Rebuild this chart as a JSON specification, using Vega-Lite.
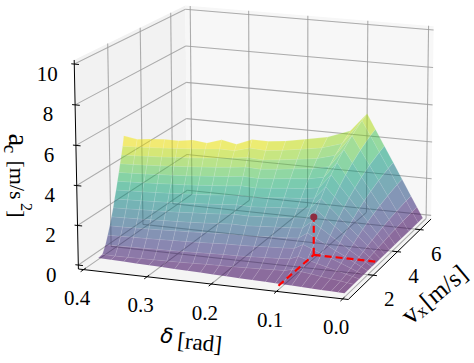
{"$schema":"https://vega.github.io/schema/vega-lite/v6.json","width":474,"height":363,"padding":0,"autosize":{"type":"fit","contains":"padding"},"config":{"view":{"stroke":null}},"background":"white",
"data":{"values":[
{"k":"pl","o":0,"d":0.4083,"v":0.07,"a":-0.2},{"k":"pl","o":1,"d":0.4083,"v":7.01,"a":-0.2},{"k":"pl","o":2,"d":0.4083,"v":7.01,"a":10.2},{"k":"pl","o":3,"d":0.4083,"v":0.07,"a":10.2},
{"k":"pr","o":0,"d":0.4083,"v":7.01,"a":-0.2},{"k":"pr","o":1,"d":-0.0083,"v":7.01,"a":-0.2},{"k":"pr","o":2,"d":-0.0083,"v":7.01,"a":10.2},{"k":"pr","o":3,"d":0.4083,"v":7.01,"a":10.2},
{"k":"pf","o":0,"d":0.4083,"v":0.07,"a":-0.2},{"k":"pf","o":1,"d":-0.0083,"v":0.07,"a":-0.2},{"k":"pf","o":2,"d":-0.0083,"v":7.01,"a":-0.2},{"k":"pf","o":3,"d":0.4083,"v":7.01,"a":-0.2},
{"k":"g","g":1,"o":0,"d":0,"v":0.07,"a":-0.2},{"k":"g","g":1,"o":1,"d":0,"v":7.01,"a":-0.2},
{"k":"g","g":2,"o":0,"d":0.1,"v":0.07,"a":-0.2},{"k":"g","g":2,"o":1,"d":0.1,"v":7.01,"a":-0.2},
{"k":"g","g":3,"o":0,"d":0.2,"v":0.07,"a":-0.2},{"k":"g","g":3,"o":1,"d":0.2,"v":7.01,"a":-0.2},
{"k":"g","g":4,"o":0,"d":0.3,"v":0.07,"a":-0.2},{"k":"g","g":4,"o":1,"d":0.3,"v":7.01,"a":-0.2},
{"k":"g","g":5,"o":0,"d":0.4,"v":0.07,"a":-0.2},{"k":"g","g":5,"o":1,"d":0.4,"v":7.01,"a":-0.2},
{"k":"g","g":6,"o":0,"d":-0.0083,"v":2,"a":-0.2},{"k":"g","g":6,"o":1,"d":0.4083,"v":2,"a":-0.2},
{"k":"g","g":7,"o":0,"d":-0.0083,"v":4,"a":-0.2},{"k":"g","g":7,"o":1,"d":0.4083,"v":4,"a":-0.2},
{"k":"g","g":8,"o":0,"d":-0.0083,"v":6,"a":-0.2},{"k":"g","g":8,"o":1,"d":0.4083,"v":6,"a":-0.2},
{"k":"g","g":9,"o":0,"d":0.4083,"v":2,"a":-0.2},{"k":"g","g":9,"o":1,"d":0.4083,"v":2,"a":10.2},
{"k":"g","g":10,"o":0,"d":0.4083,"v":4,"a":-0.2},{"k":"g","g":10,"o":1,"d":0.4083,"v":4,"a":10.2},
{"k":"g","g":11,"o":0,"d":0.4083,"v":6,"a":-0.2},{"k":"g","g":11,"o":1,"d":0.4083,"v":6,"a":10.2},
{"k":"g","g":12,"o":0,"d":0.4083,"v":0.07,"a":0},{"k":"g","g":12,"o":1,"d":0.4083,"v":7.01,"a":0},{"k":"g","g":13,"o":0,"d":0.4083,"v":0.07,"a":2},{"k":"g","g":13,"o":1,"d":0.4083,"v":7.01,"a":2},
{"k":"g","g":14,"o":0,"d":0.4083,"v":0.07,"a":4},{"k":"g","g":14,"o":1,"d":0.4083,"v":7.01,"a":4},{"k":"g","g":15,"o":0,"d":0.4083,"v":0.07,"a":6},{"k":"g","g":15,"o":1,"d":0.4083,"v":7.01,"a":6},
{"k":"g","g":16,"o":0,"d":0.4083,"v":0.07,"a":8},{"k":"g","g":16,"o":1,"d":0.4083,"v":7.01,"a":8},{"k":"g","g":17,"o":0,"d":0.4083,"v":0.07,"a":10},{"k":"g","g":17,"o":1,"d":0.4083,"v":7.01,"a":10},
{"k":"g","g":18,"o":0,"d":0,"v":7.01,"a":-0.2},{"k":"g","g":18,"o":1,"d":0,"v":7.01,"a":10.2},{"k":"g","g":19,"o":0,"d":0.1,"v":7.01,"a":-0.2},{"k":"g","g":19,"o":1,"d":0.1,"v":7.01,"a":10.2},
{"k":"g","g":20,"o":0,"d":0.2,"v":7.01,"a":-0.2},{"k":"g","g":20,"o":1,"d":0.2,"v":7.01,"a":10.2},{"k":"g","g":21,"o":0,"d":0.3,"v":7.01,"a":-0.2},{"k":"g","g":21,"o":1,"d":0.3,"v":7.01,"a":10.2},
{"k":"g","g":22,"o":0,"d":0.4,"v":7.01,"a":-0.2},{"k":"g","g":22,"o":1,"d":0.4,"v":7.01,"a":10.2},
{"k":"g","g":23,"o":0,"d":-0.0083,"v":7.01,"a":0},{"k":"g","g":23,"o":1,"d":0.4083,"v":7.01,"a":0},{"k":"g","g":24,"o":0,"d":-0.0083,"v":7.01,"a":2},{"k":"g","g":24,"o":1,"d":0.4083,"v":7.01,"a":2},
{"k":"g","g":25,"o":0,"d":-0.0083,"v":7.01,"a":4},{"k":"g","g":25,"o":1,"d":0.4083,"v":7.01,"a":4},{"k":"g","g":26,"o":0,"d":-0.0083,"v":7.01,"a":6},{"k":"g","g":26,"o":1,"d":0.4083,"v":7.01,"a":6},
{"k":"g","g":27,"o":0,"d":-0.0083,"v":7.01,"a":8},{"k":"g","g":27,"o":1,"d":0.4083,"v":7.01,"a":8},{"k":"g","g":28,"o":0,"d":-0.0083,"v":7.01,"a":10},{"k":"g","g":28,"o":1,"d":0.4083,"v":7.01,"a":10},
{"k":"ax","g":1,"o":0,"d":0.4083,"v":0.07,"a":-0.2},{"k":"ax","g":1,"o":1,"d":0.4083,"v":0.07,"a":10.2},
{"k":"ax","g":2,"o":0,"d":0.4083,"v":0.07,"a":-0.2},{"k":"ax","g":2,"o":1,"d":-0.0083,"v":0.07,"a":-0.2},
{"k":"ax","g":3,"o":0,"d":-0.0083,"v":0.07,"a":-0.2},{"k":"ax","g":3,"o":1,"d":-0.0083,"v":7.01,"a":-0.2},
{"k":"ax","g":4,"o":0,"d":0.4,"v":-0.1,"a":-0.2},{"k":"ax","g":4,"o":1,"d":0.4,"v":0.2,"a":-0.2},{"k":"ax","g":5,"o":0,"d":0.3,"v":-0.1,"a":-0.2},{"k":"ax","g":5,"o":1,"d":0.3,"v":0.2,"a":-0.2},
{"k":"ax","g":6,"o":0,"d":0.2,"v":-0.1,"a":-0.2},{"k":"ax","g":6,"o":1,"d":0.2,"v":0.2,"a":-0.2},{"k":"ax","g":7,"o":0,"d":0.1,"v":-0.1,"a":-0.2},{"k":"ax","g":7,"o":1,"d":0.1,"v":0.2,"a":-0.2},
{"k":"ax","g":8,"o":0,"d":0,"v":-0.1,"a":-0.2},{"k":"ax","g":8,"o":1,"d":0,"v":0.2,"a":-0.2},
{"k":"ax","g":9,"o":0,"d":-0.014,"v":2,"a":-0.2},{"k":"ax","g":9,"o":1,"d":0,"v":2,"a":-0.2},{"k":"ax","g":10,"o":0,"d":-0.014,"v":4,"a":-0.2},{"k":"ax","g":10,"o":1,"d":0,"v":4,"a":-0.2},
{"k":"ax","g":11,"o":0,"d":-0.014,"v":6,"a":-0.2},{"k":"ax","g":11,"o":1,"d":0,"v":6,"a":-0.2},
{"k":"ax","g":12,"o":0,"d":0.401,"v":0.07,"a":0},{"k":"ax","g":12,"o":1,"d":0.413,"v":0.07,"a":0},{"k":"ax","g":13,"o":0,"d":0.401,"v":0.07,"a":2},{"k":"ax","g":13,"o":1,"d":0.413,"v":0.07,"a":2},
{"k":"ax","g":14,"o":0,"d":0.401,"v":0.07,"a":4},{"k":"ax","g":14,"o":1,"d":0.413,"v":0.07,"a":4},{"k":"ax","g":15,"o":0,"d":0.401,"v":0.07,"a":6},{"k":"ax","g":15,"o":1,"d":0.413,"v":0.07,"a":6},
{"k":"ax","g":16,"o":0,"d":0.401,"v":0.07,"a":8},{"k":"ax","g":16,"o":1,"d":0.413,"v":0.07,"a":8},{"k":"ax","g":17,"o":0,"d":0.401,"v":0.07,"a":10},{"k":"ax","g":17,"o":1,"d":0.413,"v":0.07,"a":10},
{"k":"r","g":1,"o":0,"d":0.1,"v":0.2,"a":0},{"k":"r","g":1,"o":1,"d":0.1,"v":2.75,"a":0},{"k":"r","g":2,"o":0,"d":0.1,"v":2.75,"a":0},{"k":"r","g":2,"o":1,"d":0,"v":2.75,"a":0},{"k":"r","g":3,"o":0,"d":0.1,"v":2.75,"a":0},{"k":"r","g":3,"o":1,"d":0.1,"v":2.75,"a":1.96},
{"k":"pt","d":0.1,"v":2.75,"a":1.96},
{"k":"dl","label":"0.4","d":0.4,"v":0.07,"a":-0.2},{"k":"dl","label":"0.3","d":0.3,"v":0.07,"a":-0.2},{"k":"dl","label":"0.2","d":0.2,"v":0.07,"a":-0.2},{"k":"dl","label":"0.1","d":0.1,"v":0.07,"a":-0.2},{"k":"dl","label":"0.0","d":0,"v":0.07,"a":-0.2},
{"k":"vl","label":"2","d":-0.0083,"v":2,"a":-0.2},{"k":"vl","label":"4","d":-0.0083,"v":4,"a":-0.2},{"k":"vl","label":"6","d":-0.0083,"v":6,"a":-0.2},
{"k":"zl","label":"0","d":0.4083,"v":0.07,"a":0},{"k":"zl","label":"2","d":0.4083,"v":0.07,"a":2},{"k":"zl","label":"4","d":0.4083,"v":0.07,"a":4},{"k":"zl","label":"6","d":0.4083,"v":0.07,"a":6},{"k":"zl","label":"8","d":0.4083,"v":0.07,"a":8},{"k":"zl","label":"10","d":0.4083,"v":0.07,"a":10},
{"k":"an","d":0.2,"v":0.07,"a":-0.2},
{"i":14,"j":0,"d":0.38,"v":1.82,"a":5.7},{"i":14,"j":1,"d":0.36,"v":1.88,"a":5.55},{"i":14,"j":2,"d":0.34,"v":1.95,"a":5.6},{"i":14,"j":3,"d":0.32,"v":2.03,"a":5.6},{"i":14,"j":4,"d":0.3,"v":2.12,"a":5.55},{"i":14,"j":5,"d":0.28,"v":2.22,"a":5.6},{"i":14,"j":6,"d":0.26,"v":2.34,"a":5.45},{"i":14,"j":7,"d":0.24,"v":2.48,"a":5.6},{"i":14,"j":8,"d":0.22,"v":2.64,"a":5.35},{"i":14,"j":9,"d":0.2,"v":2.85,"a":5.55},{"i":14,"j":10,"d":0.18,"v":3.11,"a":5.4},{"i":14,"j":11,"d":0.16,"v":3.46,"a":5.3},{"i":14,"j":12,"d":0.14,"v":3.96,"a":5.2},{"i":14,"j":13,"d":0.12,"v":4.77,"a":4.98},{"i":14,"j":14,"d":0.105,"v":5.86,"a":4.82},{"i":14,"j":15,"d":0.094,"v":6.7,"a":5.37},{"i":14,"j":16,"d":0.08,"v":6.7,"a":4.57},{"i":14,"j":17,"d":0.065,"v":6.7,"a":3.71},{"i":14,"j":18,"d":0.05,"v":6.7,"a":2.86},{"i":14,"j":19,"d":0.035,"v":6.7,"a":2},{"i":14,"j":20,"d":0.02,"v":6.7,"a":1.14},{"i":14,"j":21,"d":0.01,"v":6.7,"a":0.57},{"i":14,"j":22,"d":0,"v":6.7,"a":0},
{"i":13,"j":0,"d":0.38,"v":1.74,"a":5.2},{"i":13,"j":1,"d":0.36,"v":1.8,"a":5.2},{"i":13,"j":2,"d":0.34,"v":1.86,"a":5.2},{"i":13,"j":3,"d":0.32,"v":1.94,"a":5.2},{"i":13,"j":4,"d":0.3,"v":2.02,"a":5.2},{"i":13,"j":5,"d":0.28,"v":2.11,"a":5.2},{"i":13,"j":6,"d":0.26,"v":2.22,"a":5.2},{"i":13,"j":7,"d":0.24,"v":2.35,"a":5.2},{"i":13,"j":8,"d":0.22,"v":2.5,"a":5.1},{"i":13,"j":9,"d":0.2,"v":2.69,"a":5.2},{"i":13,"j":10,"d":0.18,"v":2.92,"a":5.02},{"i":13,"j":11,"d":0.16,"v":3.23,"a":4.94},{"i":13,"j":12,"d":0.14,"v":3.66,"a":4.84},{"i":13,"j":13,"d":0.12,"v":4.34,"a":4.63},{"i":13,"j":14,"d":0.105,"v":5.19,"a":4.47},{"i":13,"j":15,"d":0.094,"v":6.27,"a":5.2},{"i":13,"j":16,"d":0.08,"v":6.27,"a":4.43},{"i":13,"j":17,"d":0.065,"v":6.27,"a":3.59},{"i":13,"j":18,"d":0.05,"v":6.27,"a":2.77},{"i":13,"j":19,"d":0.035,"v":6.27,"a":1.94},{"i":13,"j":20,"d":0.02,"v":6.27,"a":1.11},{"i":13,"j":21,"d":0.01,"v":6.27,"a":0.55},{"i":13,"j":22,"d":0,"v":6.27,"a":0},
{"i":12,"j":0,"d":0.38,"v":1.66,"a":4.8},{"i":12,"j":1,"d":0.36,"v":1.71,"a":4.8},{"i":12,"j":2,"d":0.34,"v":1.77,"a":4.8},{"i":12,"j":3,"d":0.32,"v":1.84,"a":4.8},{"i":12,"j":4,"d":0.3,"v":1.92,"a":4.8},{"i":12,"j":5,"d":0.28,"v":2,"a":4.8},{"i":12,"j":6,"d":0.26,"v":2.1,"a":4.8},{"i":12,"j":7,"d":0.24,"v":2.22,"a":4.8},{"i":12,"j":8,"d":0.22,"v":2.36,"a":4.8},{"i":12,"j":9,"d":0.2,"v":2.53,"a":4.8},{"i":12,"j":10,"d":0.18,"v":2.74,"a":4.63},{"i":12,"j":11,"d":0.16,"v":3.01,"a":4.56},{"i":12,"j":12,"d":0.14,"v":3.39,"a":4.46},{"i":12,"j":13,"d":0.12,"v":3.96,"a":4.27},{"i":12,"j":14,"d":0.105,"v":4.64,"a":4.13},{"i":12,"j":15,"d":0.094,"v":5.44,"a":4.8},{"i":12,"j":16,"d":0.08,"v":5.44,"a":4.08},{"i":12,"j":17,"d":0.065,"v":5.44,"a":3.32},{"i":12,"j":18,"d":0.05,"v":5.44,"a":2.55},{"i":12,"j":19,"d":0.035,"v":5.44,"a":1.79},{"i":12,"j":20,"d":0.02,"v":5.44,"a":1.02},{"i":12,"j":21,"d":0.01,"v":5.44,"a":0.51},{"i":12,"j":22,"d":0,"v":5.44,"a":0},
{"i":11,"j":0,"d":0.38,"v":1.57,"a":4.4},{"i":11,"j":1,"d":0.36,"v":1.62,"a":4.4},{"i":11,"j":2,"d":0.34,"v":1.68,"a":4.4},{"i":11,"j":3,"d":0.32,"v":1.74,"a":4.4},{"i":11,"j":4,"d":0.3,"v":1.81,"a":4.4},{"i":11,"j":5,"d":0.28,"v":1.9,"a":4.4},{"i":11,"j":6,"d":0.26,"v":1.99,"a":4.4},{"i":11,"j":7,"d":0.24,"v":2.09,"a":4.4},{"i":11,"j":8,"d":0.22,"v":2.22,"a":4.4},{"i":11,"j":9,"d":0.2,"v":2.37,"a":4.4},{"i":11,"j":10,"d":0.18,"v":2.56,"a":4.25},{"i":11,"j":11,"d":0.16,"v":2.81,"a":4.18},{"i":11,"j":12,"d":0.14,"v":3.14,"a":4.09},{"i":11,"j":13,"d":0.12,"v":3.62,"a":3.92},{"i":11,"j":14,"d":0.105,"v":4.17,"a":3.78},{"i":11,"j":15,"d":0.094,"v":4.78,"a":4.4},{"i":11,"j":16,"d":0.08,"v":4.78,"a":3.74},{"i":11,"j":17,"d":0.065,"v":4.78,"a":3.04},{"i":11,"j":18,"d":0.05,"v":4.78,"a":2.34},{"i":11,"j":19,"d":0.035,"v":4.78,"a":1.64},{"i":11,"j":20,"d":0.02,"v":4.78,"a":0.94},{"i":11,"j":21,"d":0.01,"v":4.78,"a":0.47},{"i":11,"j":22,"d":0,"v":4.78,"a":0},
{"i":10,"j":0,"d":0.38,"v":1.49,"a":4},{"i":10,"j":1,"d":0.36,"v":1.53,"a":4},{"i":10,"j":2,"d":0.34,"v":1.59,"a":4},{"i":10,"j":3,"d":0.32,"v":1.65,"a":4},{"i":10,"j":4,"d":0.3,"v":1.71,"a":4},{"i":10,"j":5,"d":0.28,"v":1.79,"a":4},{"i":10,"j":6,"d":0.26,"v":1.87,"a":4},{"i":10,"j":7,"d":0.24,"v":1.97,"a":4},{"i":10,"j":8,"d":0.22,"v":2.08,"a":4},{"i":10,"j":9,"d":0.2,"v":2.22,"a":4},{"i":10,"j":10,"d":0.18,"v":2.39,"a":3.86},{"i":10,"j":11,"d":0.16,"v":2.61,"a":3.8},{"i":10,"j":12,"d":0.14,"v":2.89,"a":3.72},{"i":10,"j":13,"d":0.12,"v":3.3,"a":3.56},{"i":10,"j":14,"d":0.105,"v":3.76,"a":3.44},{"i":10,"j":15,"d":0.094,"v":4.24,"a":4},{"i":10,"j":16,"d":0.08,"v":4.24,"a":3.4},{"i":10,"j":17,"d":0.065,"v":4.24,"a":2.76},{"i":10,"j":18,"d":0.05,"v":4.24,"a":2.13},{"i":10,"j":19,"d":0.035,"v":4.24,"a":1.49},{"i":10,"j":20,"d":0.02,"v":4.24,"a":0.85},{"i":10,"j":21,"d":0.01,"v":4.24,"a":0.43},{"i":10,"j":22,"d":0,"v":4.24,"a":0},
{"i":9,"j":0,"d":0.38,"v":1.4,"a":3.6},{"i":9,"j":1,"d":0.36,"v":1.44,"a":3.6},{"i":9,"j":2,"d":0.34,"v":1.49,"a":3.6},{"i":9,"j":3,"d":0.32,"v":1.55,"a":3.6},{"i":9,"j":4,"d":0.3,"v":1.61,"a":3.6},{"i":9,"j":5,"d":0.28,"v":1.67,"a":3.6},{"i":9,"j":6,"d":0.26,"v":1.75,"a":3.6},{"i":9,"j":7,"d":0.24,"v":1.84,"a":3.6},{"i":9,"j":8,"d":0.22,"v":1.94,"a":3.6},{"i":9,"j":9,"d":0.2,"v":2.07,"a":3.6},{"i":9,"j":10,"d":0.18,"v":2.22,"a":3.47},{"i":9,"j":11,"d":0.16,"v":2.41,"a":3.42},{"i":9,"j":12,"d":0.14,"v":2.66,"a":3.35},{"i":9,"j":13,"d":0.12,"v":3.01,"a":3.2},{"i":9,"j":14,"d":0.105,"v":3.39,"a":3.1},{"i":9,"j":15,"d":0.094,"v":3.78,"a":3.6},{"i":9,"j":16,"d":0.08,"v":3.78,"a":3.06},{"i":9,"j":17,"d":0.065,"v":3.78,"a":2.49},{"i":9,"j":18,"d":0.05,"v":3.78,"a":1.92},{"i":9,"j":19,"d":0.035,"v":3.78,"a":1.34},{"i":9,"j":20,"d":0.02,"v":3.78,"a":0.77},{"i":9,"j":21,"d":0.01,"v":3.78,"a":0.38},{"i":9,"j":22,"d":0,"v":3.78,"a":0},
{"i":8,"j":0,"d":0.38,"v":1.31,"a":3.2},{"i":8,"j":1,"d":0.36,"v":1.35,"a":3.2},{"i":8,"j":2,"d":0.34,"v":1.39,"a":3.2},{"i":8,"j":3,"d":0.32,"v":1.44,"a":3.2},{"i":8,"j":4,"d":0.3,"v":1.5,"a":3.2},{"i":8,"j":5,"d":0.28,"v":1.56,"a":3.2},{"i":8,"j":6,"d":0.26,"v":1.63,"a":3.2},{"i":8,"j":7,"d":0.24,"v":1.71,"a":3.2},{"i":8,"j":8,"d":0.22,"v":1.81,"a":3.2},{"i":8,"j":9,"d":0.2,"v":1.92,"a":3.2},{"i":8,"j":10,"d":0.18,"v":2.05,"a":3.09},{"i":8,"j":11,"d":0.16,"v":2.22,"a":3.04},{"i":8,"j":12,"d":0.14,"v":2.44,"a":2.98},{"i":8,"j":13,"d":0.12,"v":2.74,"a":2.85},{"i":8,"j":14,"d":0.105,"v":3.05,"a":2.75},{"i":8,"j":15,"d":0.094,"v":3.37,"a":3.2},{"i":8,"j":16,"d":0.08,"v":3.37,"a":2.72},{"i":8,"j":17,"d":0.065,"v":3.37,"a":2.21},{"i":8,"j":18,"d":0.05,"v":3.37,"a":1.7},{"i":8,"j":19,"d":0.035,"v":3.37,"a":1.19},{"i":8,"j":20,"d":0.02,"v":3.37,"a":0.68},{"i":8,"j":21,"d":0.01,"v":3.37,"a":0.34},{"i":8,"j":22,"d":0,"v":3.37,"a":0},
{"i":7,"j":0,"d":0.38,"v":1.21,"a":2.8},{"i":7,"j":1,"d":0.36,"v":1.25,"a":2.8},{"i":7,"j":2,"d":0.34,"v":1.29,"a":2.8},{"i":7,"j":3,"d":0.32,"v":1.34,"a":2.8},{"i":7,"j":4,"d":0.3,"v":1.39,"a":2.8},{"i":7,"j":5,"d":0.28,"v":1.44,"a":2.8},{"i":7,"j":6,"d":0.26,"v":1.51,"a":2.8},{"i":7,"j":7,"d":0.24,"v":1.58,"a":2.8},{"i":7,"j":8,"d":0.22,"v":1.66,"a":2.8},{"i":7,"j":9,"d":0.2,"v":1.76,"a":2.8},{"i":7,"j":10,"d":0.18,"v":1.88,"a":2.7},{"i":7,"j":11,"d":0.16,"v":2.03,"a":2.66},{"i":7,"j":12,"d":0.14,"v":2.22,"a":2.6},{"i":7,"j":13,"d":0.12,"v":2.48,"a":2.49},{"i":7,"j":14,"d":0.105,"v":2.74,"a":2.41},{"i":7,"j":15,"d":0.094,"v":3,"a":2.8},{"i":7,"j":16,"d":0.08,"v":3,"a":2.38},{"i":7,"j":17,"d":0.065,"v":3,"a":1.94},{"i":7,"j":18,"d":0.05,"v":3,"a":1.49},{"i":7,"j":19,"d":0.035,"v":3,"a":1.04},{"i":7,"j":20,"d":0.02,"v":3,"a":0.6},{"i":7,"j":21,"d":0.01,"v":3,"a":0.3},{"i":7,"j":22,"d":0,"v":3,"a":0},
{"i":6,"j":0,"d":0.38,"v":1.12,"a":2.4},{"i":6,"j":1,"d":0.36,"v":1.15,"a":2.4},{"i":6,"j":2,"d":0.34,"v":1.19,"a":2.4},{"i":6,"j":3,"d":0.32,"v":1.23,"a":2.4},{"i":6,"j":4,"d":0.3,"v":1.27,"a":2.4},{"i":6,"j":5,"d":0.28,"v":1.32,"a":2.4},{"i":6,"j":6,"d":0.26,"v":1.38,"a":2.4},{"i":6,"j":7,"d":0.24,"v":1.44,"a":2.4},{"i":6,"j":8,"d":0.22,"v":1.52,"a":2.4},{"i":6,"j":9,"d":0.2,"v":1.61,"a":2.4},{"i":6,"j":10,"d":0.18,"v":1.71,"a":2.32},{"i":6,"j":11,"d":0.16,"v":1.84,"a":2.28},{"i":6,"j":12,"d":0.14,"v":2,"a":2.23},{"i":6,"j":13,"d":0.12,"v":2.22,"a":2.14},{"i":6,"j":14,"d":0.105,"v":2.44,"a":2.06},{"i":6,"j":15,"d":0.094,"v":2.65,"a":2.4},{"i":6,"j":16,"d":0.08,"v":2.65,"a":2.04},{"i":6,"j":17,"d":0.065,"v":2.65,"a":1.66},{"i":6,"j":18,"d":0.05,"v":2.65,"a":1.28},{"i":6,"j":19,"d":0.035,"v":2.65,"a":0.89},{"i":6,"j":20,"d":0.02,"v":2.65,"a":0.51},{"i":6,"j":21,"d":0.01,"v":2.65,"a":0.26},{"i":6,"j":22,"d":0,"v":2.65,"a":0},
{"i":5,"j":0,"d":0.38,"v":1.01,"a":2},{"i":5,"j":1,"d":0.36,"v":1.04,"a":2},{"i":5,"j":2,"d":0.34,"v":1.07,"a":2},{"i":5,"j":3,"d":0.32,"v":1.11,"a":2},{"i":5,"j":4,"d":0.3,"v":1.15,"a":2},{"i":5,"j":5,"d":0.28,"v":1.19,"a":2},{"i":5,"j":6,"d":0.26,"v":1.24,"a":2},{"i":5,"j":7,"d":0.24,"v":1.3,"a":2},{"i":5,"j":8,"d":0.22,"v":1.37,"a":2},{"i":5,"j":9,"d":0.2,"v":1.44,"a":2},{"i":5,"j":10,"d":0.18,"v":1.53,"a":1.93},{"i":5,"j":11,"d":0.16,"v":1.65,"a":1.9},{"i":5,"j":12,"d":0.14,"v":1.79,"a":1.86},{"i":5,"j":13,"d":0.12,"v":1.97,"a":1.78},{"i":5,"j":14,"d":0.105,"v":2.15,"a":1.72},{"i":5,"j":15,"d":0.094,"v":2.32,"a":2},{"i":5,"j":16,"d":0.08,"v":2.32,"a":1.7},{"i":5,"j":17,"d":0.065,"v":2.32,"a":1.38},{"i":5,"j":18,"d":0.05,"v":2.32,"a":1.06},{"i":5,"j":19,"d":0.035,"v":2.32,"a":0.74},{"i":5,"j":20,"d":0.02,"v":2.32,"a":0.43},{"i":5,"j":21,"d":0.01,"v":2.32,"a":0.21},{"i":5,"j":22,"d":0,"v":2.32,"a":0},
{"i":4,"j":0,"d":0.38,"v":0.9,"a":1.6},{"i":4,"j":1,"d":0.36,"v":0.92,"a":1.6},{"i":4,"j":2,"d":0.34,"v":0.95,"a":1.6},{"i":4,"j":3,"d":0.32,"v":0.98,"a":1.6},{"i":4,"j":4,"d":0.3,"v":1.02,"a":1.6},{"i":4,"j":5,"d":0.28,"v":1.06,"a":1.6},{"i":4,"j":6,"d":0.26,"v":1.1,"a":1.6},{"i":4,"j":7,"d":0.24,"v":1.15,"a":1.6},{"i":4,"j":8,"d":0.22,"v":1.21,"a":1.6},{"i":4,"j":9,"d":0.2,"v":1.27,"a":1.6},{"i":4,"j":10,"d":0.18,"v":1.35,"a":1.54},{"i":4,"j":11,"d":0.16,"v":1.44,"a":1.52},{"i":4,"j":12,"d":0.14,"v":1.56,"a":1.49},{"i":4,"j":13,"d":0.12,"v":1.71,"a":1.42},{"i":4,"j":14,"d":0.105,"v":1.86,"a":1.38},{"i":4,"j":15,"d":0.094,"v":1.99,"a":1.6},{"i":4,"j":16,"d":0.08,"v":1.99,"a":1.36},{"i":4,"j":17,"d":0.065,"v":1.99,"a":1.11},{"i":4,"j":18,"d":0.05,"v":1.99,"a":0.85},{"i":4,"j":19,"d":0.035,"v":1.99,"a":0.6},{"i":4,"j":20,"d":0.02,"v":1.99,"a":0.34},{"i":4,"j":21,"d":0.01,"v":1.99,"a":0.17},{"i":4,"j":22,"d":0,"v":1.99,"a":0},
{"i":3,"j":0,"d":0.38,"v":0.77,"a":1.2},{"i":3,"j":1,"d":0.36,"v":0.79,"a":1.2},{"i":3,"j":2,"d":0.34,"v":0.82,"a":1.2},{"i":3,"j":3,"d":0.32,"v":0.84,"a":1.2},{"i":3,"j":4,"d":0.3,"v":0.87,"a":1.2},{"i":3,"j":5,"d":0.28,"v":0.91,"a":1.2},{"i":3,"j":6,"d":0.26,"v":0.94,"a":1.2},{"i":3,"j":7,"d":0.24,"v":0.98,"a":1.2},{"i":3,"j":8,"d":0.22,"v":1.03,"a":1.2},{"i":3,"j":9,"d":0.2,"v":1.08,"a":1.2},{"i":3,"j":10,"d":0.18,"v":1.15,"a":1.16},{"i":3,"j":11,"d":0.16,"v":1.23,"a":1.14},{"i":3,"j":12,"d":0.14,"v":1.32,"a":1.12},{"i":3,"j":13,"d":0.12,"v":1.44,"a":1.07},{"i":3,"j":14,"d":0.105,"v":1.56,"a":1.03},{"i":3,"j":15,"d":0.094,"v":1.67,"a":1.2},{"i":3,"j":16,"d":0.08,"v":1.67,"a":1.02},{"i":3,"j":17,"d":0.065,"v":1.67,"a":0.83},{"i":3,"j":18,"d":0.05,"v":1.67,"a":0.64},{"i":3,"j":19,"d":0.035,"v":1.67,"a":0.45},{"i":3,"j":20,"d":0.02,"v":1.67,"a":0.26},{"i":3,"j":21,"d":0.01,"v":1.67,"a":0.13},{"i":3,"j":22,"d":0,"v":1.67,"a":0},
{"i":2,"j":0,"d":0.38,"v":0.63,"a":0.8},{"i":2,"j":1,"d":0.36,"v":0.64,"a":0.8},{"i":2,"j":2,"d":0.34,"v":0.66,"a":0.8},{"i":2,"j":3,"d":0.32,"v":0.68,"a":0.8},{"i":2,"j":4,"d":0.3,"v":0.71,"a":0.8},{"i":2,"j":5,"d":0.28,"v":0.73,"a":0.8},{"i":2,"j":6,"d":0.26,"v":0.76,"a":0.8},{"i":2,"j":7,"d":0.24,"v":0.79,"a":0.8},{"i":2,"j":8,"d":0.22,"v":0.83,"a":0.8},{"i":2,"j":9,"d":0.2,"v":0.87,"a":0.8},{"i":2,"j":10,"d":0.18,"v":0.92,"a":0.77},{"i":2,"j":11,"d":0.16,"v":0.98,"a":0.76},{"i":2,"j":12,"d":0.14,"v":1.06,"a":0.74},{"i":2,"j":13,"d":0.12,"v":1.15,"a":0.71},{"i":2,"j":14,"d":0.105,"v":1.24,"a":0.69},{"i":2,"j":15,"d":0.094,"v":1.32,"a":0.8},{"i":2,"j":16,"d":0.08,"v":1.32,"a":0.68},{"i":2,"j":17,"d":0.065,"v":1.32,"a":0.55},{"i":2,"j":18,"d":0.05,"v":1.32,"a":0.43},{"i":2,"j":19,"d":0.035,"v":1.32,"a":0.3},{"i":2,"j":20,"d":0.02,"v":1.32,"a":0.17},{"i":2,"j":21,"d":0.01,"v":1.32,"a":0.09},{"i":2,"j":22,"d":0,"v":1.32,"a":0},
{"i":1,"j":0,"d":0.38,"v":0.44,"a":0.42},{"i":1,"j":1,"d":0.36,"v":0.45,"a":0.4},{"i":1,"j":2,"d":0.34,"v":0.46,"a":0.4},{"i":1,"j":3,"d":0.32,"v":0.48,"a":0.4},{"i":1,"j":4,"d":0.3,"v":0.49,"a":0.4},{"i":1,"j":5,"d":0.28,"v":0.51,"a":0.4},{"i":1,"j":6,"d":0.26,"v":0.53,"a":0.4},{"i":1,"j":7,"d":0.24,"v":0.55,"a":0.4},{"i":1,"j":8,"d":0.22,"v":0.58,"a":0.4},{"i":1,"j":9,"d":0.2,"v":0.61,"a":0.4},{"i":1,"j":10,"d":0.18,"v":0.64,"a":0.39},{"i":1,"j":11,"d":0.16,"v":0.68,"a":0.38},{"i":1,"j":12,"d":0.14,"v":0.73,"a":0.37},{"i":1,"j":13,"d":0.12,"v":0.79,"a":0.36},{"i":1,"j":14,"d":0.105,"v":0.85,"a":0.34},{"i":1,"j":15,"d":0.094,"v":0.9,"a":0.4},{"i":1,"j":16,"d":0.08,"v":0.9,"a":0.34},{"i":1,"j":17,"d":0.065,"v":0.9,"a":0.28},{"i":1,"j":18,"d":0.05,"v":0.9,"a":0.21},{"i":1,"j":19,"d":0.035,"v":0.9,"a":0.15},{"i":1,"j":20,"d":0.02,"v":0.9,"a":0.09},{"i":1,"j":21,"d":0.01,"v":0.9,"a":0.04},{"i":1,"j":22,"d":0,"v":0.9,"a":0},
{"i":0,"j":0,"d":0.38,"v":0.2,"a":0.38},{"i":0,"j":1,"d":0.36,"v":0.2,"a":0.36},{"i":0,"j":2,"d":0.34,"v":0.2,"a":0.34},{"i":0,"j":3,"d":0.32,"v":0.2,"a":0.32},{"i":0,"j":4,"d":0.3,"v":0.2,"a":0.3},{"i":0,"j":5,"d":0.28,"v":0.2,"a":0.28},{"i":0,"j":6,"d":0.26,"v":0.2,"a":0.26},{"i":0,"j":7,"d":0.24,"v":0.2,"a":0.24},{"i":0,"j":8,"d":0.22,"v":0.2,"a":0.22},{"i":0,"j":9,"d":0.2,"v":0.2,"a":0.2},{"i":0,"j":10,"d":0.18,"v":0.2,"a":0.18},{"i":0,"j":11,"d":0.16,"v":0.2,"a":0.16},{"i":0,"j":12,"d":0.14,"v":0.2,"a":0.14},{"i":0,"j":13,"d":0.12,"v":0.2,"a":0.12},{"i":0,"j":14,"d":0.105,"v":0.2,"a":0.1},{"i":0,"j":15,"d":0.094,"v":0.2,"a":0.09},{"i":0,"j":16,"d":0.08,"v":0.2,"a":0.08},{"i":0,"j":17,"d":0.065,"v":0.2,"a":0.06},{"i":0,"j":18,"d":0.05,"v":0.2,"a":0.05},{"i":0,"j":19,"d":0.035,"v":0.2,"a":0.03},{"i":0,"j":20,"d":0.02,"v":0.2,"a":0.02},{"i":0,"j":21,"d":0.01,"v":0.2,"a":0.01},{"i":0,"j":22,"d":0,"v":0.2,"a":0}
]},
"transform":[
{"calculate":"(datum.d+0.0083)/0.4167","as":"s"},
{"calculate":"(datum.v-0.07)/6.94","as":"t"},
{"calculate":"(datum.a+0.2)/10.4","as":"h"},
{"calculate":"1+0.03*datum.s+0.12*datum.t-0.02*datum.h","as":"w"},
{"calculate":"(348-268.175*datum.s+134.72*datum.t-5.8*datum.h)/datum.w","as":"px"},
{"calculate":"(299.5-22.43*datum.s-54.22*datum.t-216.5*datum.h)/datum.w","as":"py"}
],
"encoding":{
"x":{"field":"px","type":"quantitative","scale":{"domain":[0,474],"nice":false,"zero":false},"axis":null},
"y":{"field":"py","type":"quantitative","scale":{"domain":[363,0],"nice":false,"zero":false},"axis":null}
},
"layer":[
{"transform":[{"filter":"datum.k=='pl'||datum.k=='pr'||datum.k=='pf'"}],"mark":{"type":"line","strokeWidth":0},
"encoding":{"detail":{"field":"k"},"order":{"field":"o"},"fill":{"field":"k","type":"nominal","scale":{"domain":["pl","pr","pf"],"range":["#f2f2f2","#f7f7f7","#f4f4f4"]},"legend":null}}},
{"transform":[{"filter":"datum.k=='g'"}],"mark":{"type":"line","stroke":"#bdbdbd","strokeWidth":1.1},"encoding":{"detail":{"field":"g"},"order":{"field":"o"}}},
{"transform":[{"filter":"isValid(datum.i)"},
{"calculate":"[datum.i,datum.i-1,datum.i-1,datum.i]","as":"qi"},
{"calculate":"[datum.j,datum.j,datum.j-1,datum.j-1]","as":"qj"},
{"calculate":"[0,1,2,3]","as":"c"},
{"flatten":["qi","qj","c"]},
{"filter":"datum.qi>=0&&datum.qi<=13&&datum.qj>=0&&datum.qj<=21"},
{"calculate":"datum.qi*100+datum.qj","as":"id"},
{"joinaggregate":[{"op":"mean","field":"a","as":"za"}],"groupby":["id"]}],
"mark":{"type":"line","stroke":"#ffffff","strokeOpacity":0.35,"strokeWidth":0.4,"opacity":0.6},
"encoding":{"detail":{"field":"id"},"order":{"field":"c"},"fill":{"field":"za","type":"quantitative","scale":{"scheme":"viridis","domain":[0,5.5]},"legend":null}}},
{"transform":[{"filter":"datum.k=='g'"}],"mark":{"type":"line","stroke":"#000000","strokeWidth":1,"opacity":0.09},"encoding":{"detail":{"field":"g"},"order":{"field":"o"}}},
{"transform":[{"filter":"datum.k=='ax'"}],"mark":{"type":"line","stroke":"black","strokeWidth":1},"encoding":{"detail":{"field":"g"},"order":{"field":"o"}}},
{"transform":[{"filter":"datum.k=='r'"}],"mark":{"type":"line","stroke":"#ff0000","strokeWidth":2.2,"strokeDash":[7,4]},"encoding":{"detail":{"field":"g"},"order":{"field":"o"}}},
{"transform":[{"filter":"datum.k=='pt'"}],"mark":{"type":"circle","size":50,"opacity":1,"color":"#8e2d40"}},
{"transform":[{"filter":"datum.k=='dl'"}],"mark":{"type":"text","font":"Liberation Serif","fontSize":21,"dx":-6.5,"dy":29.5,"align":"center","baseline":"middle"},"encoding":{"text":{"field":"label"}}},
{"transform":[{"filter":"datum.k=='vl'"}],"mark":{"type":"text","font":"Liberation Serif","fontSize":21,"dx":16,"dy":25,"align":"center","baseline":"middle"},"encoding":{"text":{"field":"label"}}},
{"transform":[{"filter":"datum.k=='zl'"}],"mark":{"type":"text","font":"Liberation Serif","fontSize":21,"dx":-27,"dy":10.5,"align":"center","baseline":"middle"},"encoding":{"text":{"field":"label"}}},
{"transform":[{"filter":"datum.k=='an'"}],"mark":{"type":"text","text":"δ","font":"DejaVu Sans","fontStyle":"italic","fontSize":21,"angle":6,"dx":-38.9,"dy":57.4,"align":"center","baseline":"middle"}},
{"transform":[{"filter":"datum.k=='an'"}],"mark":{"type":"text","text":"[rad]","font":"Liberation Serif","fontSize":23,"angle":6,"dx":-5.5,"dy":59.9,"align":"center","baseline":"middle"}},
{"transform":[{"filter":"datum.k=='an'"}],"mark":{"type":"text","text":"v","font":"Liberation Serif","fontSize":28,"angle":-40,"dx":132.8,"dy":151.9,"align":"center","baseline":"middle"}},
{"transform":[{"filter":"datum.k=='an'"}],"mark":{"type":"text","text":"x","font":"Liberation Serif","fontSize":18,"angle":-40,"dx":143.8,"dy":156.9,"align":"center","baseline":"middle"}},
{"transform":[{"filter":"datum.k=='an'"}],"mark":{"type":"text","text":"[m/s]","font":"Liberation Serif","fontSize":25,"angle":-40,"dx":176,"dy":151.7,"align":"center","baseline":"middle"}},
{"transform":[{"filter":"datum.k=='an'"}],"mark":{"type":"text","text":"a","font":"Liberation Serif","fontSize":29,"angle":90,"dx":-144,"dy":193.7,"align":"center","baseline":"middle"}},
{"transform":[{"filter":"datum.k=='an'"}],"mark":{"type":"text","text":"c","font":"Liberation Serif","fontSize":19,"angle":90,"dx":-135,"dy":201.7,"align":"center","baseline":"middle"}},
{"transform":[{"filter":"datum.k=='an'"}],"mark":{"type":"text","text":"[m/s","font":"Liberation Serif","fontSize":22,"angle":90,"dx":-104,"dy":194.7,"align":"center","baseline":"middle"}},
{"transform":[{"filter":"datum.k=='an'"}],"mark":{"type":"text","text":"2","font":"Liberation Serif","fontSize":16,"angle":90,"dx":-77,"dy":185.7,"align":"center","baseline":"middle"}},
{"transform":[{"filter":"datum.k=='an'"}],"mark":{"type":"text","text":"]","font":"Liberation Serif","fontSize":22,"angle":90,"dx":-70,"dy":194.7,"align":"center","baseline":"middle"}}
]}
